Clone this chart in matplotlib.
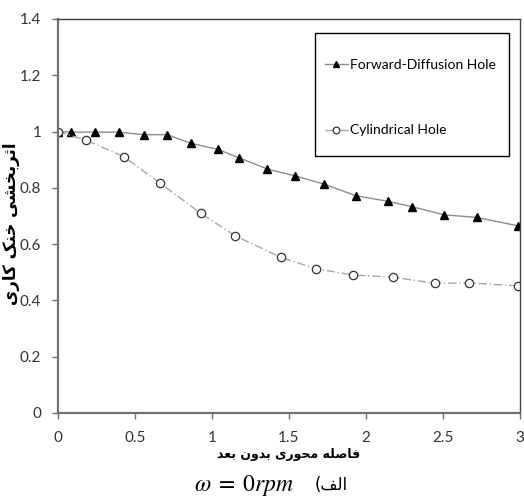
import matplotlib
matplotlib.use("Agg")
import matplotlib.pyplot as plt
from matplotlib.patches import Rectangle

# dimensionless axial distance and cooling effectiveness
x_forward = [0.0, 0.084, 0.24, 0.396, 0.558, 0.71, 0.864, 1.037, 1.175, 1.36,
             1.537, 1.73, 1.935, 2.145, 2.30, 2.51, 2.72, 2.99]
eff_forward = [1.0, 0.998, 0.998, 0.998, 0.989, 0.989, 0.958, 0.937, 0.907, 0.867,
               0.843, 0.813, 0.772, 0.752, 0.733, 0.704, 0.695, 0.665]

x_cyl = [0.0, 0.18, 0.427, 0.665, 0.926, 1.15, 1.448, 1.673, 1.918, 2.173,
         2.448, 2.673, 2.987]
eff_cyl = [1.0, 0.970, 0.911, 0.816, 0.710, 0.630, 0.553, 0.513, 0.490, 0.483,
           0.461, 0.462, 0.452]

x_ticks = [0, 0.5, 1, 1.5, 2, 2.5, 3]
x_tick_labels = ["0", "0.5", "1", "1.5", "2", "2.5", "3"]
y_ticks = [0, 0.2, 0.4, 0.6, 0.8, 1.0, 1.2, 1.4]
y_tick_labels = ["0", "0.2", "0.4", "0.6", "0.8", "1", "1.2", "1.4"]

# Persian labels written in presentation forms, visual order
xlabel_fa = "\uFEAA\uFECC\uFE91 \uFEE5\uFEED\uFEAA\uFE91 \uFEEF\uFEAD\uFEEE\uFEA4\uFEE3 \uFEEA\uFEE0\uFEBB\uFE8E\uFED3"
ylabel_fa = "\uFEEF\uFEAD\uFE8E\uFB90 \uFB8F\uFEE8\uFEA7 \uFEF0\uFEB8\uFEA8\uFE91\uFEAE\uFE9B\uFE8D"
caption_fa = "(\uFED2\uFEDF\uFE8D"

plt.rcParams["font.family"] = ["Lato", "DejaVu Sans"]
plt.rcParams["mathtext.fontset"] = "stix"

fig = plt.figure(figsize=(5.24, 5.0), dpi=100)
ax = fig.add_axes([0.1107, 0.174, 0.8813, 0.788])

ax.plot(x_forward, eff_forward, color="#8c8c8c", lw=1.0, marker="^",
        markersize=6, markerfacecolor="black", markeredgecolor="black",
        label="Forward-Diffusion Hole")
ax.plot(x_cyl, eff_cyl, color="#a6a6a6", lw=1.0, ls=(0, (6, 2, 1, 2)),
        marker="o", markersize=6, markerfacecolor="white",
        markeredgecolor="#333333", markeredgewidth=0.9,
        label="Cylindrical Hole")

ax.set_xlim(0, 3)
ax.set_ylim(0, 1.4)
ax.set_xticks(x_ticks)
ax.set_xticklabels(x_tick_labels)
ax.set_yticks(y_ticks)
ax.set_yticklabels(y_tick_labels)
ax.tick_params(direction="out", length=4, width=1, color="#707070",
               labelsize=11, labelcolor="#333333")
ax.tick_params(axis="x", pad=9)
ax.tick_params(axis="y", pad=8)

for side in ["left", "bottom"]:
    ax.spines[side].set_color("#707070")
    ax.spines[side].set_linewidth(1.6)
for side in ["top", "right"]:
    ax.spines[side].set_color("#404040")
    ax.spines[side].set_linewidth(1.0)

ax.set_xlabel(xlabel_fa, family=["DejaVu Sans"], fontsize=9, fontweight="bold",
              labelpad=2)
ax.set_ylabel(ylabel_fa, family=["DejaVu Sans"], fontsize=12, fontweight="bold",
              va="center", ha="center")
ax.yaxis.set_label_coords(-0.102, 0.48)

# legend box drawn separately so the padding can be taller than wide
ax.add_patch(Rectangle((0.556, 0.652), 0.42, 0.312, transform=ax.transAxes,
                       facecolor="white", edgecolor="black", lw=1.0, zorder=4))
leg = ax.legend(loc="center left", bbox_to_anchor=(0.578, 0.80),
                fontsize=10, handlelength=1.65, handletextpad=0.15,
                labelspacing=3.83, borderpad=0, markerscale=0.8,
                frameon=False, borderaxespad=0)
leg.set_zorder(5)

fig.text(0.466, 0.03, r"$\omega\;=\;0rpm$", fontsize=17, ha="center", va="center")
fig.text(0.632, 0.03, caption_fa, family=["DejaVu Sans"], fontsize=12,
         ha="center", va="center")

fig.savefig("out.png", dpi=100)
